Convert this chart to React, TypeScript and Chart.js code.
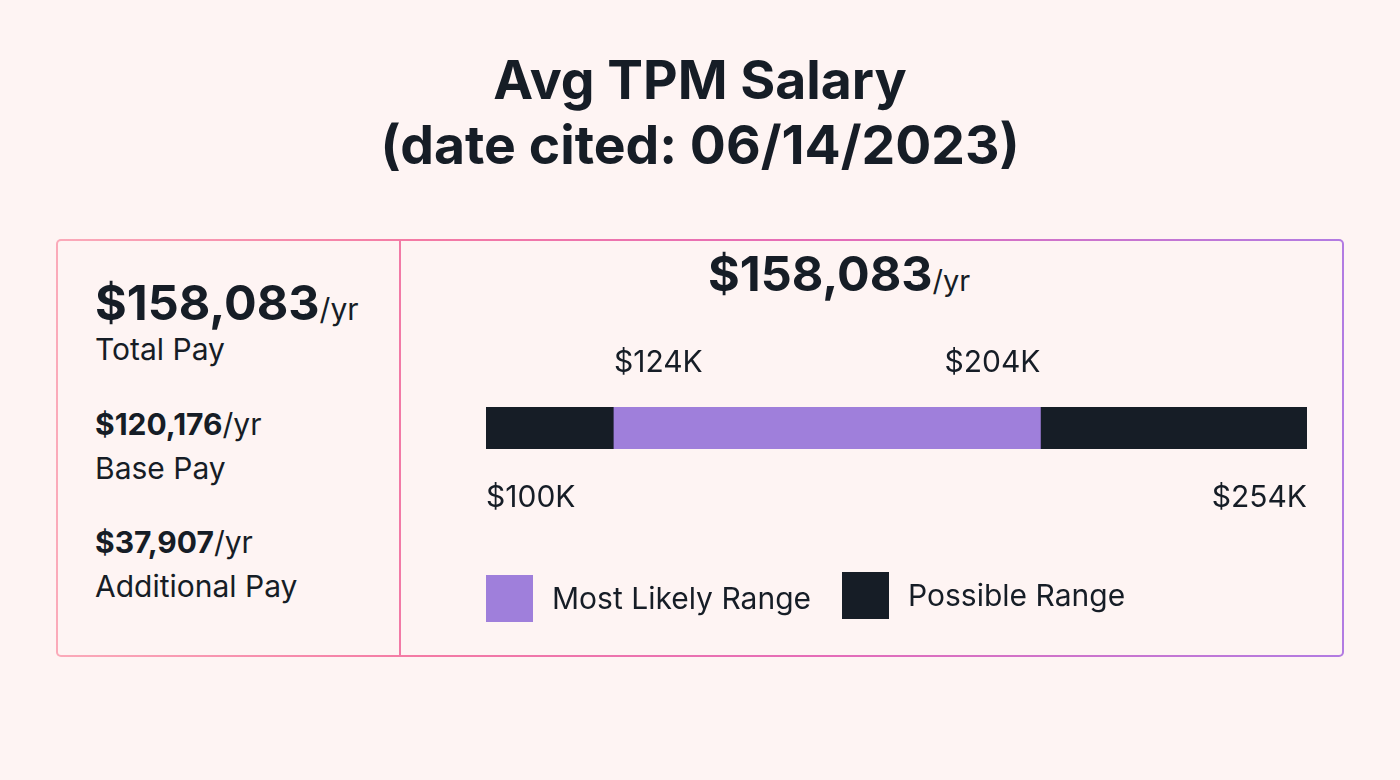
import React, { useEffect, useRef } from "react";
import { Chart, registerables } from "chart.js";

Chart.register(...registerables);

// ---- data ----
const titleLines = ["Avg TPM Salary", "(date cited: 06/14/2023)"];
const payValues = ["$158,083", "$120,176", "$37,907"];
const payLabels = ["Total Pay", "Base Pay", "Additional Pay"];
const perUnit = "/yr";
const headlineValue = "$158,083";
const rangeNames = ["Most Likely Range", "Possible Range"];
const mostLikelyRange = [124, 204];
const possibleRange = [100, 254];
const rangeColors = ["#9f7fdb", "#161d26"];
const fmtK = (v: number) => `$${v}K`;

const BG = "#fef4f3";
const INK = "#161d26";
const FONT = "Inter, 'Noto Sans', sans-serif";

const labelsPlugin = {
  id: "rangeLabels",
  afterDatasetsDraw(chart: any) {
    const { ctx } = chart;
    const x = chart.scales.x;
    ctx.save();
    ctx.fillStyle = INK;
    ctx.font = `400 30px ${FONT}`;
    ctx.textBaseline = "alphabetic";
    // most likely range labels above bar
    ctx.textAlign = "left";
    ctx.fillText(fmtK(mostLikelyRange[0]), x.getPixelForValue(mostLikelyRange[0]), 131);
    ctx.textAlign = "right";
    ctx.fillText(fmtK(mostLikelyRange[1]), x.getPixelForValue(mostLikelyRange[1]), 131);
    // possible range labels below bar
    ctx.textAlign = "left";
    ctx.fillText(fmtK(possibleRange[0]), x.getPixelForValue(possibleRange[0]), 266);
    ctx.textAlign = "right";
    ctx.fillText(fmtK(possibleRange[1]), x.getPixelForValue(possibleRange[1]), 266);
    ctx.restore();
  },
};

function RangeChart() {
  const ref = useRef<HTMLCanvasElement>(null);
  useEffect(() => {
    if (!ref.current) return;
    const chart = new Chart(ref.current, {
      type: "bar",
      data: {
        labels: ["Salary"],
        datasets: [
          {
            label: rangeNames[0],
            data: [mostLikelyRange as any],
            backgroundColor: rangeColors[0],
            barPercentage: 1,
            categoryPercentage: 1,
            grouped: false,
          },
          {
            label: rangeNames[1],
            data: [possibleRange as any],
            backgroundColor: rangeColors[1],
            barPercentage: 1,
            categoryPercentage: 1,
            grouped: false,
          },
        ],
      },
      options: {
        indexAxis: "y",
        animation: false,
        responsive: false,
        layout: { padding: { left: 84, right: 35, top: 166, bottom: 206 } },
        scales: {
          x: { display: false, min: possibleRange[0], max: possibleRange[1] },
          y: { display: false },
        },
        plugins: { legend: { display: false }, tooltip: { enabled: false } },
      },
      plugins: [labelsPlugin],
    });
    return () => chart.destroy();
  }, []);
  return <canvas ref={ref} width={940} height={414} style={{ width: 940, height: 414, display: "block" }} />;
}

const abs = (o: React.CSSProperties): React.CSSProperties => ({ position: "absolute", whiteSpace: "nowrap", ...o });

export default function App() {
  const leftTops = [279, 409, 527];
  const leftLabelTops = [334, 453, 571];
  const legendOffsets = [3, 0];
  return (
    <div
      style={{
        position: "fixed",
        left: 0,
        top: 0,
        width: 1400,
        height: 780,
        background: BG,
        color: INK,
        fontFamily: FONT,
        overflow: "hidden",
      }}
    >
      <div
        style={abs({
          left: 0,
          width: 1400,
          top: 47,
          textAlign: "center",
          fontSize: 53.5,
          fontWeight: 700,
          lineHeight: "65px",
        })}
      >
        {titleLines.map((t) => (
          <div key={t}>{t}</div>
        ))}
      </div>

      <div
        style={abs({
          left: 56,
          top: 239,
          width: 1288,
          height: 418,
          boxSizing: "border-box",
          border: "2px solid transparent",
          borderRadius: 5,
          background: `linear-gradient(${BG}, ${BG}) padding-box, linear-gradient(90deg, #fbaab9 0%, #f47aa4 28%, #e56cb8 60%, #b27be2 100%) border-box`,
        })}
      />
      <div style={abs({ left: 399, top: 240, width: 2, height: 416, background: "#f27aa6" })} />

      {payValues.map((v, i) => (
        <div
          key={v}
          style={abs({ left: 95, top: leftTops[i], fontSize: i === 0 ? 48.5 : 30, lineHeight: 1, fontWeight: 700 })}
        >
          {v}
          <span style={{ fontWeight: 400, fontSize: 30 }}>{perUnit}</span>
        </div>
      ))}
      {payLabels.map((l, i) => (
        <div key={l} style={abs({ left: 95, top: leftLabelTops[i], fontSize: 30, lineHeight: 1 })}>
          {l}
        </div>
      ))}

      <div style={abs({ left: 708, top: 250, fontSize: 48.5, lineHeight: 1, fontWeight: 700 })}>
        {headlineValue}
        <span style={{ fontWeight: 400, fontSize: 29 }}>{perUnit}</span>
      </div>

      <div style={abs({ left: 402, top: 241 })}>
        <RangeChart />
      </div>

      <div style={abs({ left: 486, top: 572, display: "flex", alignItems: "flex-start" })}>
        {rangeNames.map((n, i) => (
          <div
            key={n}
            style={{ display: "flex", alignItems: "center", marginRight: 31, marginTop: legendOffsets[i] }}
          >
            <div style={{ width: 47, height: 47, background: rangeColors[i], marginRight: 19 }} />
            <span style={{ fontSize: 30, lineHeight: "47px" }}>{n}</span>
          </div>
        ))}
      </div>
    </div>
  );
}
